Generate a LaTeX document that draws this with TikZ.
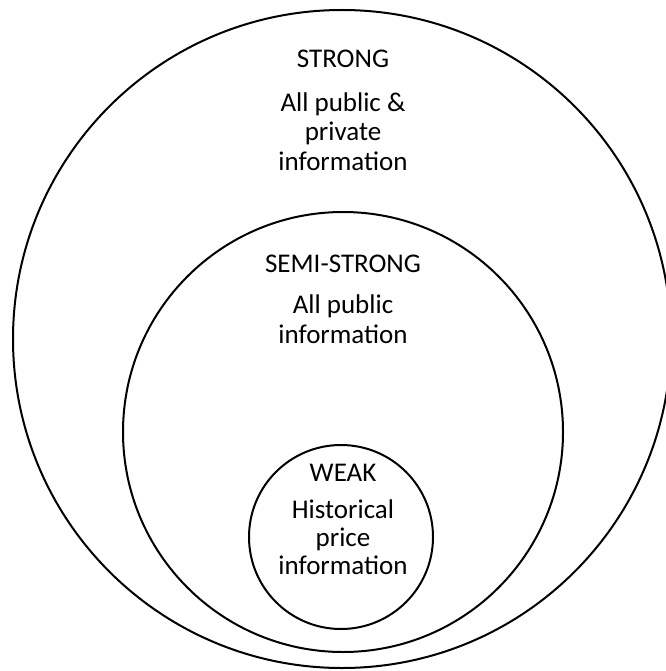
\documentclass[tikz,border=0pt]{standalone}
\usepackage{fontspec}
\setmainfont{Carlito}
\begin{document}
\begin{tikzpicture}[x=1pt,y=-1pt,
  ring/.style={draw=black,line width=2pt},
  lbl/.style={font=\fontsize{27}{30}\selectfont,inner sep=0pt,anchor=base}]
\useasboundingbox (0,0) rectangle (665,671);
\draw[ring] (342,339) circle [radius=329];
\draw[ring] (343,432) circle [radius=220];
\draw[ring] (341,537) circle [radius=92];
% STRONG
\node[lbl] (strong) at (343,68) {STRONG};
\node[lbl] (s1) at (343,112) {All public \&};
\node[lbl] (s2) at (343,141) {private};
\node[lbl] (s3) at (343,171) {information};
% SEMI-STRONG
\node[lbl] (semi) at (343,272) {SEMI-STRONG};
\node[lbl] (m1) at (343,313) {All public};
\node[lbl] (m2) at (343,343) {information};
% WEAK
\node[lbl] (weak) at (343,481) {WEAK};
\node[lbl] (w1) at (343,518) {Historical};
\node[lbl] (w2) at (343,546) {price};
\node[lbl] (w3) at (343,574) {information};
\end{tikzpicture}
\end{document}
